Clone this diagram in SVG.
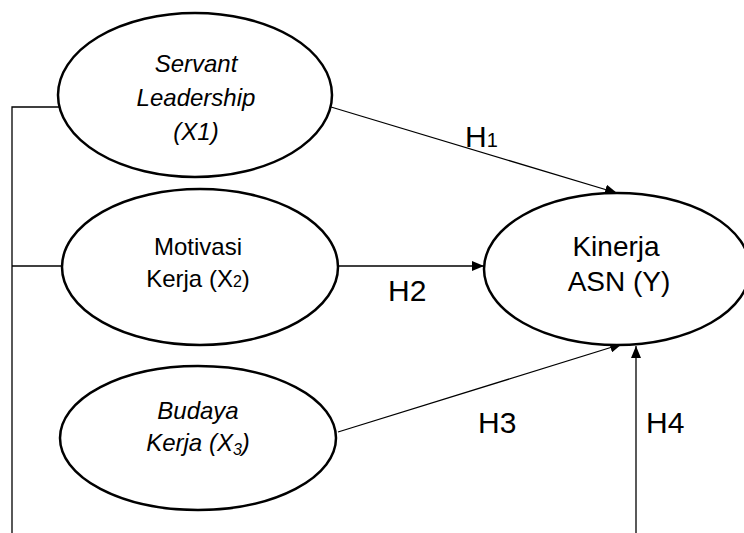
<svg xmlns="http://www.w3.org/2000/svg" width="744" height="533" viewBox="0 0 744 533">
<defs>
<marker id="arr" viewBox="0 0 12 10" refX="12" refY="5" markerWidth="12" markerHeight="10" markerUnits="userSpaceOnUse" orient="auto">
<path d="M0,0 L12,5 L0,10 Z" fill="#000"/>
</marker>
</defs>
<style>
.node{fill:#fff;stroke:#000;stroke-width:2.5}
.t{font-family:"Liberation Sans",Arial,sans-serif;font-size:24px;fill:#000;text-anchor:middle}
.i{font-style:italic}
.k{font-size:28px}
.c{fill:none;stroke:#000;stroke-width:1.3}
.h{font-family:"Liberation Sans",Arial,sans-serif;font-size:30px;fill:#000}
</style>
<rect width="744" height="533" fill="#fff"/>
<g id="connectors">
<polyline class="c" points="59,107 12,107 12,533"/>
<line class="c" x1="12" y1="266" x2="63" y2="266"/>
<line class="c" x1="331" y1="107" x2="617" y2="193" marker-end="url(#arr)"/>
<line class="c" x1="338" y1="266" x2="484" y2="266" marker-end="url(#arr)"/>
<line class="c" x1="338" y1="432" x2="622" y2="344" marker-end="url(#arr)"/>
<line class="c" x1="636" y1="533" x2="636" y2="346" marker-end="url(#arr)"/>
<text class="h" x="465" y="147">H<tspan font-size="20">1</tspan></text>
<text class="h" x="388" y="301">H2</text>
<text class="h" x="478" y="433">H3</text>
<text class="h" x="646" y="433">H4</text>
</g>
<g id="x1">
<ellipse class="node" cx="195" cy="95" rx="137" ry="82"/>
<text class="t i" x="196" y="72">Servant</text>
<text class="t i" x="196" y="106">Leadership</text>
<text class="t i" x="196" y="140">(X1)</text>
</g>
<g id="x2">
<ellipse class="node" cx="200" cy="267" rx="138" ry="78"/>
<text class="t" x="198" y="255">Motivasi</text>
<text class="t" x="198" y="287">Kerja (X<tspan font-size="16">2</tspan>)</text>
</g>
<g id="x3">
<ellipse class="node" cx="198" cy="438" rx="138" ry="72"/>
<text class="t i" x="198" y="419">Budaya</text>
<text class="t i" x="198" y="451">Kerja (X<tspan font-size="16" dy="4">3</tspan><tspan dy="-4">)</tspan></text>
</g>
<g id="y">
<ellipse class="node" cx="617" cy="269" rx="133" ry="76"/>
<text class="t k" x="616" y="256">Kinerja</text>
<text class="t k" x="619" y="291">ASN (Y)</text>
</g>
</svg>
